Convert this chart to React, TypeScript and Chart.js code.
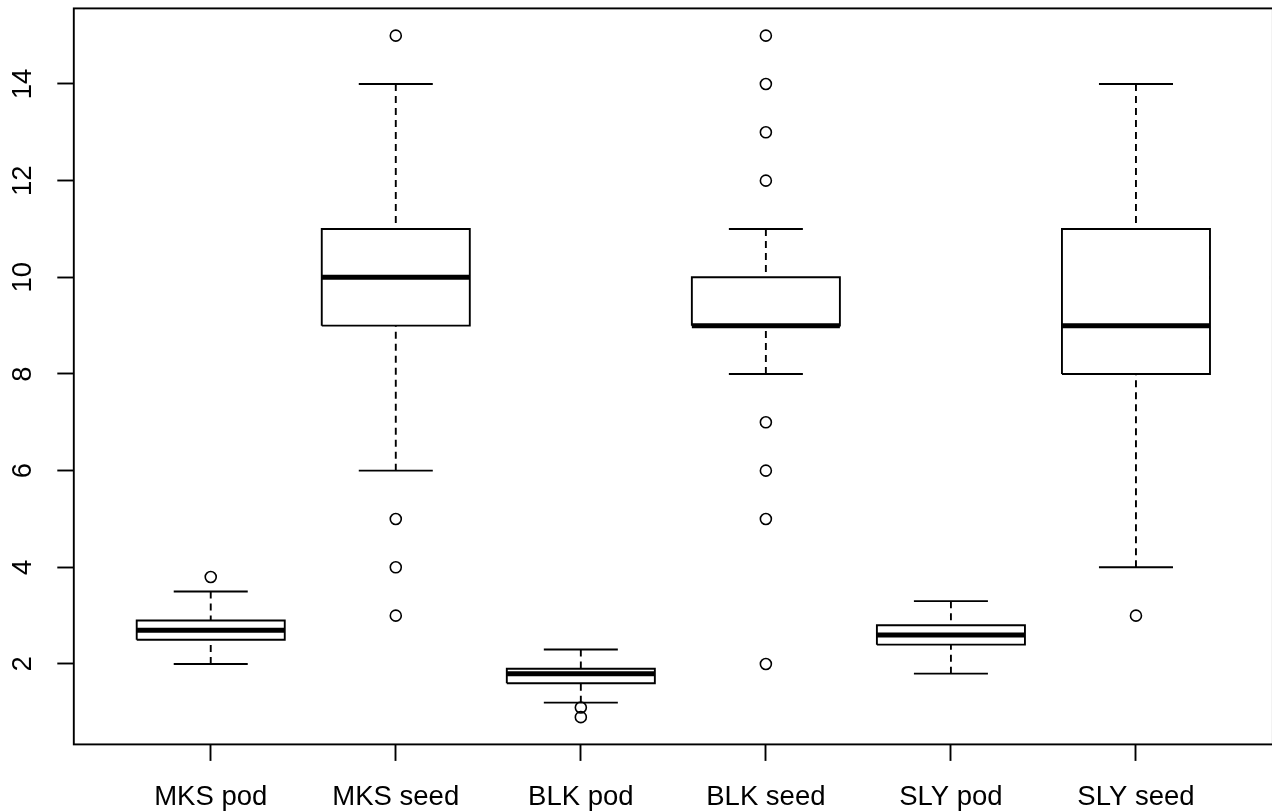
import { useEffect, useRef } from 'react';
import { Chart, registerables } from 'chart.js';

Chart.register(...registerables);

const categories = ['MKS pod', 'MKS seed', 'BLK pod', 'BLK seed', 'SLY pod', 'SLY seed'];
const whiskerLow = [2.0, 6, 1.2, 8, 1.8, 4];
const lowerQuartile = [2.5, 9, 1.6, 9, 2.4, 8];
const medians = [2.7, 10, 1.8, 9, 2.6, 9];
const upperQuartile = [2.9, 11, 1.9, 10, 2.8, 11];
const whiskerHigh = [3.5, 14, 2.3, 11, 3.3, 14];
const outliers: number[][] = [[3.8], [15, 5, 4, 3], [1.1, 0.9], [15, 14, 13, 12, 7, 6, 5, 2], [], [3]];
const yTicks = [2, 4, 6, 8, 10, 12, 14];
const xRange = [0.26, 6.74];
const yRange = [0.336, 15.564];

const BOX_HALF = 0.4;
const CAP_HALF = 0.2;
const FONT = { family: "'Liberation Sans', Arial, sans-serif", size: 27.5 };
const LW = 1.9;

type P = { x: number; y: number | null };

function buildWhiskers(): P[] {
  return categories.flatMap((_, i) => {
    const x = i + 1;
    return [
      { x, y: whiskerHigh[i] }, { x, y: upperQuartile[i] }, { x, y: null },
      { x, y: whiskerLow[i] }, { x, y: lowerQuartile[i] }, { x, y: null },
    ];
  });
}

function buildCaps(): P[] {
  return categories.flatMap((_, i) => {
    const x = i + 1;
    return [
      { x: x - CAP_HALF, y: whiskerHigh[i] }, { x: x + CAP_HALF, y: whiskerHigh[i] }, { x, y: null },
      { x: x - CAP_HALF, y: whiskerLow[i] }, { x: x + CAP_HALF, y: whiskerLow[i] }, { x, y: null },
    ];
  });
}

function buildBoxes(): P[] {
  return categories.flatMap((_, i) => {
    const x = i + 1;
    return [
      { x: x - BOX_HALF, y: lowerQuartile[i] },
      { x: x + BOX_HALF, y: lowerQuartile[i] },
      { x: x + BOX_HALF, y: upperQuartile[i] },
      { x: x - BOX_HALF, y: upperQuartile[i] },
      { x: x - BOX_HALF, y: lowerQuartile[i] },
      { x, y: null },
    ];
  });
}

function buildMedians(): P[] {
  return categories.flatMap((_, i) => {
    const x = i + 1;
    return [{ x: x - BOX_HALF, y: medians[i] }, { x: x + BOX_HALF, y: medians[i] }, { x, y: null }];
  });
}

function buildOutliers(): P[] {
  return categories.flatMap((_, i) => outliers[i].map((v) => ({ x: i + 1, y: v })));
}

const framePlugin = {
  id: 'frame',
  afterDatasetsDraw(chart: any) {
    const { ctx, chartArea } = chart;
    ctx.save();
    ctx.strokeStyle = '#000';
    ctx.lineWidth = LW;
    ctx.strokeRect(chartArea.left, chartArea.top, chartArea.right - chartArea.left, chartArea.bottom - chartArea.top);
    ctx.restore();
  },
};

export default function App() {
  const ref = useRef<HTMLCanvasElement | null>(null);

  useEffect(() => {
    if (!ref.current) return;
    const lineBase = {
      showLine: true,
      pointRadius: 0,
      borderColor: '#000',
      borderWidth: LW,
      fill: false,
      spanGaps: false,
      tension: 0,
    };
    const chart = new Chart(ref.current, {
      type: 'scatter',
      data: {
        datasets: [
          {
            label: 'outliers',
            data: buildOutliers(),
            showLine: false,
            pointRadius: 5.5,
            pointBorderWidth: 1.6,
            pointBorderColor: '#000',
            pointBackgroundColor: 'rgba(0,0,0,0)',
            pointStyle: 'circle',
          },
          { ...lineBase, label: 'median', data: buildMedians(), borderWidth: 5, borderCapStyle: 'butt' },
          { ...lineBase, label: 'box', data: buildBoxes(), borderJoinStyle: 'miter' },
          { ...lineBase, label: 'caps', data: buildCaps() },
          { ...lineBase, label: 'whiskers', data: buildWhiskers(), borderDash: [7, 5] },
        ] as any,
      },
      options: {
        animation: false,
        responsive: false,
        events: [],
        layout: { padding: { top: 8.4, right: 4.6, left: 0, bottom: 0 } },
        plugins: { legend: { display: false }, tooltip: { enabled: false } },
        scales: {
          x: {
            type: 'linear',
            min: xRange[0],
            max: xRange[1],
            bounds: 'data',
            border: { display: false },
            grid: { drawOnChartArea: false, drawTicks: true, tickLength: 16.5, tickWidth: LW, tickColor: '#000', color: '#000' },
            ticks: {
              font: FONT,
              color: '#000',
              padding: 20,
              maxRotation: 0,
              minRotation: 0,
              autoSkip: false,
              callback: (v: any) => categories[Math.round(Number(v)) - 1] ?? '',
            },
            afterBuildTicks: (scale: any) => {
              scale.ticks = categories.map((_, i) => ({ value: i + 1 }));
            },
            afterFit: (scale: any) => {
              scale.height = 811 - 744.4;
              scale.paddingLeft = 0;
              scale.paddingRight = 0;
            },
          },
          y: {
            type: 'linear',
            min: yRange[0],
            max: yRange[1],
            bounds: 'data',
            border: { display: false },
            grid: { drawOnChartArea: false, drawTicks: true, tickLength: 16.5, tickWidth: LW, tickColor: '#000', color: '#000' },
            ticks: {
              font: FONT,
              color: '#000',
              padding: 18.4,
              minRotation: 90,
              maxRotation: 90,
              crossAlign: 'center',
              autoSkip: false,
              callback: (v: any) => String(v),
            },
            afterBuildTicks: (scale: any) => {
              scale.ticks = yTicks.map((v) => ({ value: v }));
            },
            afterFit: (scale: any) => {
              scale.width = 73.8;
              scale.paddingTop = 0;
              scale.paddingBottom = 0;
            },
          },
        },
      } as any,
      plugins: [framePlugin],
    });
    return () => chart.destroy();
  }, []);

  return (
    <div style={{ position: 'fixed', left: 0, top: 0, width: 1272, height: 811, overflow: 'hidden', background: '#fff' }}>
      <canvas ref={ref} width={1280} height={811} style={{ display: 'block' }} />
    </div>
  );
}
